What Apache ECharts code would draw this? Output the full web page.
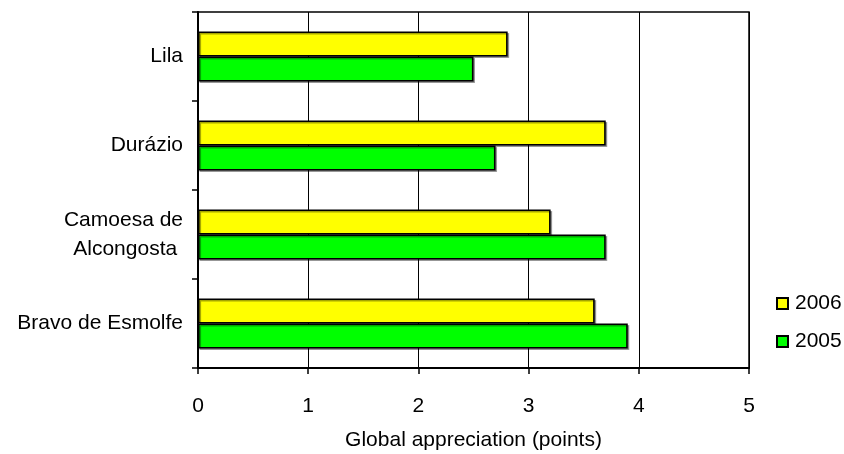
<!DOCTYPE html>
<html>
<head>
<meta charset="utf-8">
<script src="https://cdn.jsdelivr.net/npm/echarts@6/dist/echarts.min.js"></script>
<style>
  html, body { margin: 0; padding: 0; background: #fff; }
  #chart { width: 844px; height: 454px; }
</style>
</head>
<body>
<div id="chart"></div>
<script>
// Varieties, listed bottom to top along the category axis
const varieties = ['Bravo de Esmolfe', 'Camoesa de\nAlcongosta ', 'Durázio', 'Lila'];
const scores2005 = [3.9, 3.7, 2.7, 2.5];
const scores2006 = [3.6, 3.2, 3.7, 2.81];
const xTicks = [0, 1, 2, 3, 4, 5];
const xTitle = 'Global appreciation (points)';

const font = 'Liberation Sans, Arial, sans-serif';
const fs = 21;
const barEdge = {
  borderColor: '#000',
  borderWidth: 1.6,
  shadowColor: 'rgba(0,0,0,0.35)',
  shadowOffsetX: 1.5,
  shadowOffsetY: 1.5,
  shadowBlur: 0
};

const chart = echarts.init(document.getElementById('chart'), null, { renderer: 'canvas' });
chart.setOption({
  animation: false,
  backgroundColor: '#fff',
  textStyle: { fontFamily: font },
  grid: {
    left: 198, right: 95, top: 12, bottom: 86,
    containLabel: false,
    outerBoundsMode: 'none',
    show: true, borderColor: '#000', borderWidth: 1.5, backgroundColor: 'transparent'
  },
  legend: {
    data: ['2006', '2005'],
    orient: 'vertical',
    left: 776,
    top: 293,
    padding: 0,
    icon: 'rect',
    itemWidth: 11,
    itemHeight: 11,
    itemGap: 17,
    textStyle: { fontFamily: font, fontSize: fs, color: '#000', padding: [0, 0, 0, 2] }
  },
  xAxis: {
    type: 'value',
    min: xTicks[0],
    max: xTicks[xTicks.length - 1],
    interval: 1,
    name: xTitle,
    nameLocation: 'middle',
    nameGap: 72,
    nameTextStyle: { fontFamily: font, fontSize: fs, color: '#000', verticalAlign: 'middle' },
    axisLine: { show: true, lineStyle: { color: '#000', width: 2 } },
    axisTick: { show: true, length: 6, lineStyle: { color: '#000', width: 1.5 } },
    axisLabel: { fontFamily: font, fontSize: fs, color: '#000', margin: 28 },
    splitLine: { show: true, lineStyle: { color: '#000', width: 1 } }
  },
  yAxis: {
    type: 'category',
    data: varieties,
    axisLine: { show: true, lineStyle: { color: '#000', width: 2 } },
    axisTick: { show: true, inside: false, length: 6, lineStyle: { color: '#000', width: 1.5 } },
    axisLabel: {
      fontFamily: font, fontSize: fs, color: '#000', margin: 15,
      lineHeight: 29, align: 'right', padding: [3, 0, 0, 0]
    },
    splitLine: { show: false }
  },
  series: [
    {
      name: '2006',
      type: 'bar',
      data: scores2006,
      barWidth: 25,
      barGap: '0%',
      itemStyle: Object.assign({ color: '#FFFF00' }, barEdge)
    },
    {
      name: '2005',
      type: 'bar',
      data: scores2005,
      barWidth: 25,
      barGap: '0%',
      itemStyle: Object.assign({ color: '#00FF00' }, barEdge)
    }
  ]
});
</script>
</body>
</html>
